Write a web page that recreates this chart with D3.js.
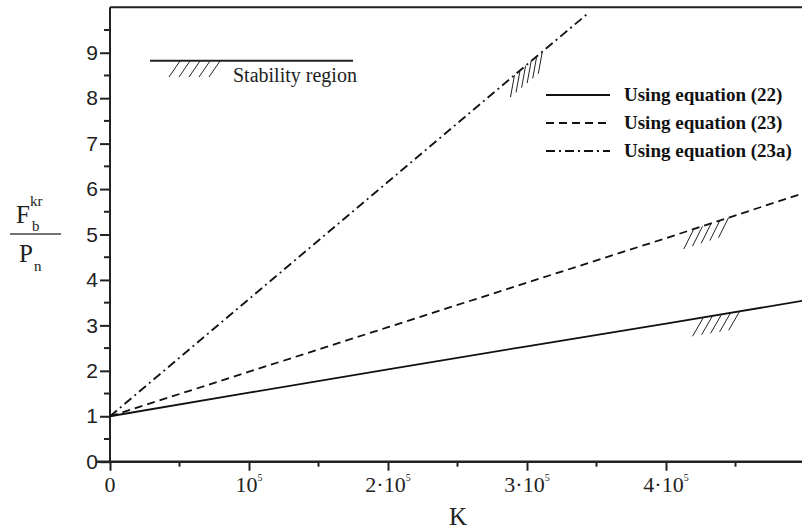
<!DOCTYPE html>
<html>
<head>
<meta charset="utf-8">
<script src="https://cdn.jsdelivr.net/npm/d3@7"></script>
<style>
  body { margin: 0; background: #fff; }
  .serif { font-family: "Liberation Serif", "Times New Roman", serif; }
  .sans { font-family: "Liberation Sans", Arial, sans-serif; }
</style>
</head>
<body>
<script>
/* values: K on x, F_b^kr / P_n on y */
var kValues = [0, 1e5, 2e5, 3e5, 4e5, 5e5]
var eq22 = [1, 1.52, 2.03, 2.54, 3.04, 3.55]
var eq23 = [1, 1.98, 2.96, 3.94, 4.92, 5.92]
var kValues23a = [0, 1e5, 2e5, 3e5, 3.44e5]
var eq23a = [1, 3.58, 6.16, 8.74, 9.87]

var xTickValues = [0, 1e5, 2e5, 3e5, 4e5]
var xTickMantissa = ["0", "", "2·", "3·", "4·"]
var yTickValues = [0, 1, 2, 3, 4, 5, 6, 7, 8, 9]

var legendLabels = ["Using equation (22)", "Using equation (23)", "Using equation (23a)"]

/* where the stability hatches sit on each curve (K from, K to, count) */
var hatches = [
  {series: 0, k0: 4.27e5, k1: 4.53e5, n: 5},
  {series: 1, k0: 4.2e5, k1: 4.45e5, n: 5},
  {series: 2, k0: 2.91e5, k1: 3.11e5, n: 6}
]

var W = 802, H = 530
var svg = d3.select("body").append("svg").attr("width", W).attr("height", H)

var x = d3.scaleLinear().domain([0, 5e5]).range([110, 805])
var y = d3.scaleLinear().domain([0, 10]).range([461.7, 7.3])

var series = [
  {k: kValues, v: eq22, dash: null},
  {k: kValues, v: eq23, dash: "8,5"},
  {k: kValues23a, v: eq23a, dash: "9,4,2,4"}
]

// frame top + right
svg.append("path")
  .attr("d", "M" + x(0) + "," + y(10) + "H" + x(5e5) + "V" + y(0))
  .attr("fill", "none").attr("stroke", "#222").attr("stroke-width", 2)

// y axis
var yAxis = d3.axisLeft(y).tickValues(yTickValues).tickSize(10).tickSizeOuter(0)
var gy = svg.append("g").attr("transform", "translate(" + x(0) + ",0)").call(yAxis)
gy.select(".domain").attr("stroke", "#222").attr("stroke-width", 2)
  .attr("d", "M0," + y(0) + "V" + y(10))
gy.selectAll(".tick line").attr("stroke", "#222").attr("stroke-width", 2)
gy.selectAll(".tick text").attr("class", "sans").attr("font-size", 21).attr("fill", "#222").attr("x", -12)
gy.selectAll(".minor").data(d3.range(0.5, 10, 1)).enter().append("line")
  .attr("x1", -6).attr("x2", 0).attr("y1", function(d) { return y(d) }).attr("y2", function(d) { return y(d) })
  .attr("stroke", "#222").attr("stroke-width", 2)

// x axis
var xAxis = d3.axisBottom(x).tickValues(xTickValues).tickSize(9).tickSizeOuter(0).tickFormat("")
var gx = svg.append("g").attr("transform", "translate(0," + y(0) + ")").call(xAxis)
gx.select(".domain").attr("stroke", "#222").attr("stroke-width", 2.5)
  .attr("d", "M" + (x(0) - 14) + ",0H" + W)
gx.selectAll(".tick line").attr("stroke", "#222").attr("stroke-width", 2)
gx.selectAll(".minor").data(d3.range(0.5e5, 5e5, 1e5)).enter().append("line")
  .attr("x1", function(d) { return x(d) }).attr("x2", function(d) { return x(d) })
  .attr("y1", 0).attr("y2", 5).attr("stroke", "#222").attr("stroke-width", 2)

var xLabels = gx.selectAll(".xlab").data(xTickValues).enter().append("text")
  .attr("class", "serif").attr("font-size", 22).attr("fill", "#222")
  .attr("text-anchor", "middle")
  .attr("x", function(d) { return x(d) }).attr("y", 30)
xLabels.each(function(d, i) {
  var t = d3.select(this)
  if (d === 0) { t.text("0"); return }
  t.append("tspan").text(xTickMantissa[i] + "10")
  t.append("tspan").attr("font-size", 10).attr("dy", -11).text("5")
})

svg.append("text").attr("class", "serif").attr("font-size", 25).attr("fill", "#222")
  .attr("text-anchor", "middle").attr("x", 458).attr("y", 525).text("K")

// y label: F_b^kr / P_n
var yl = svg.append("g").attr("class", "serif").attr("fill", "#222")
yl.append("text").attr("x", 16).attr("y", 223).attr("font-size", 25).text("F")
yl.append("text").attr("x", 32).attr("y", 231).attr("font-size", 15).text("b")
yl.append("text").attr("x", 30).attr("y", 206).attr("font-size", 15).text("kr")
yl.append("line").attr("x1", 10).attr("x2", 61).attr("y1", 234).attr("y2", 234)
  .attr("stroke", "#444").attr("stroke-width", 1.3)
yl.append("text").attr("x", 19).attr("y", 262).attr("font-size", 25).text("P")
yl.append("text").attr("x", 34).attr("y", 271).attr("font-size", 15).text("n")

// curves
var line = d3.line().x(function(d) { return x(d[0]) }).y(function(d) { return y(d[1]) })
series.forEach(function(s) {
  var pts = s.k.map(function(k, i) { return [k, s.v[i]] })
  svg.append("path").datum(pts).attr("d", line)
    .attr("fill", "none").attr("stroke", "#111").attr("stroke-width", 1.8)
    .attr("stroke-dasharray", s.dash)
})

// hatches on curves
var hatchShape = [[-11, 19], [-10, 20], [-4, 22]]
hatches.forEach(function(h) {
  var s = series[h.series]
  var interp = d3.scaleLinear().domain(s.k).range(s.v)
  d3.range(h.n).forEach(function(i) {
    var k = h.k0 + (h.k1 - h.k0) * i / (h.n - 1)
    var px = x(k), py = y(interp(k))
    svg.append("line").attr("x1", px).attr("y1", py)
      .attr("x2", px + hatchShape[h.series][0]).attr("y2", py + hatchShape[h.series][1])
      .attr("stroke", "#222").attr("stroke-width", 1)
  })
})

// stability region legend
svg.append("line").attr("x1", 150).attr("x2", 353).attr("y1", 60.7).attr("y2", 60.7)
  .attr("stroke", "#222").attr("stroke-width", 2)
d3.range(5).forEach(function(i) {
  var px = 180 + i * 10
  svg.append("line").attr("x1", px).attr("y1", 61).attr("x2", px - 11).attr("y2", 77)
    .attr("stroke", "#222").attr("stroke-width", 1)
})
svg.append("text").attr("class", "serif").attr("font-size", 20).attr("fill", "#222")
  .attr("x", 233).attr("y", 82).text("Stability region")

// curve legend
legendLabels.forEach(function(lab, i) {
  var ly = 95 + i * 28
  svg.append("line").attr("x1", 546).attr("x2", 610).attr("y1", ly).attr("y2", ly)
    .attr("stroke", "#111").attr("stroke-width", 1.8)
    .attr("stroke-dasharray", series[i].dash)
  svg.append("text").attr("class", "serif").attr("font-weight", "bold")
    .attr("font-size", 19).attr("fill", "#111")
    .attr("x", 624).attr("y", ly + 6).text(lab)
})
</script>
</body>
</html>
